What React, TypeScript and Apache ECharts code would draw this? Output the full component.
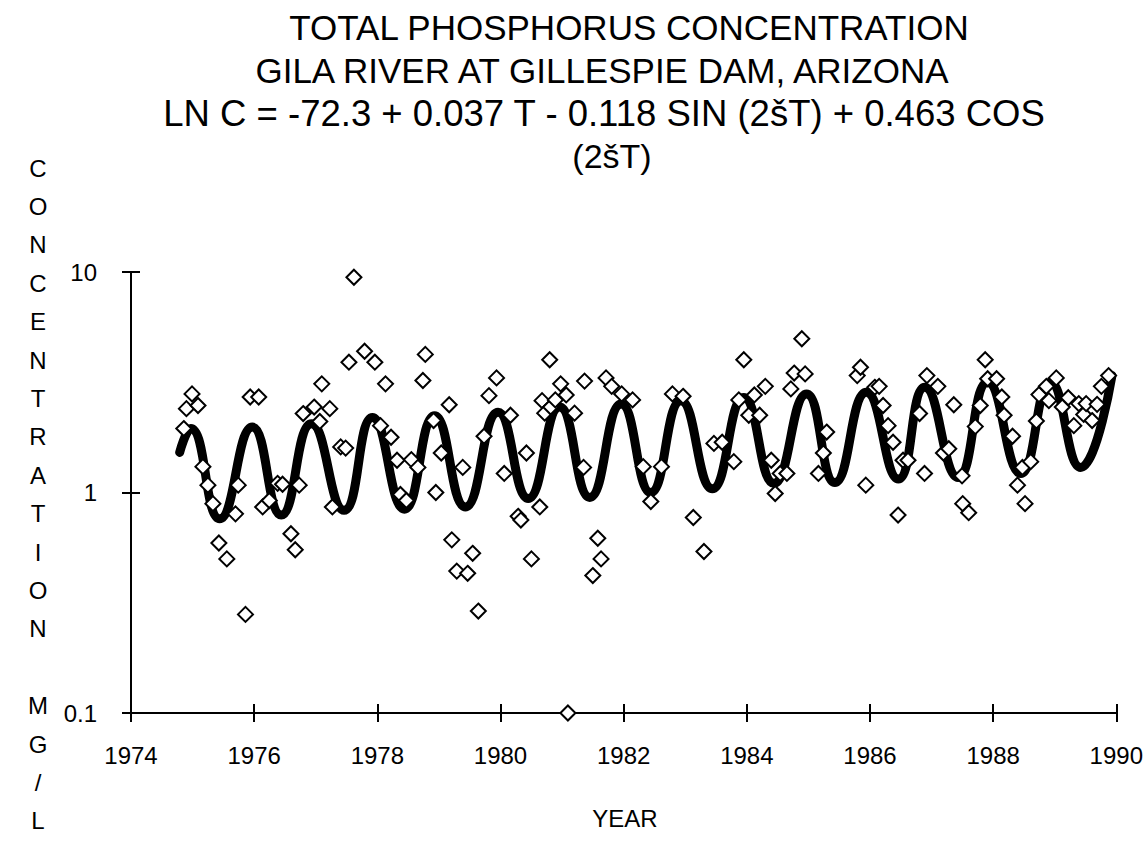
import React, { useEffect, useRef } from "react";
import * as echarts from "echarts";

// Observed samples (decimal year, concentration mg/L)
const obsYear = [
  1974.857, 1974.9, 1974.991, 1975.088, 1975.168, 1975.249, 1975.33, 1975.427, 1975.556, 1975.697,
  1975.741, 1975.859, 1975.935, 1976.074, 1976.138, 1976.246, 1976.381, 1976.461, 1976.597, 1976.667,
  1976.731, 1976.796, 1976.974, 1977.066, 1977.098, 1977.228, 1977.27, 1977.405, 1977.486, 1977.539,
  1977.62, 1977.793, 1977.96, 1978.052, 1978.133, 1978.223, 1978.32, 1978.375, 1978.472, 1978.553,
  1978.659, 1978.74, 1978.779, 1978.913, 1978.95, 1979.038, 1979.167, 1979.209, 1979.29, 1979.387,
  1979.467, 1979.548, 1979.64, 1979.733, 1979.813, 1979.936, 1980.061, 1980.162, 1980.287, 1980.331,
  1980.421, 1980.502, 1980.638, 1980.675, 1980.718, 1980.799, 1980.815, 1980.89, 1980.977, 1981.067,
  1981.095, 1981.203, 1981.349, 1981.365, 1981.499, 1981.58, 1981.633, 1981.714, 1981.806, 1981.968,
  1982.145, 1982.318, 1982.441, 1982.614, 1982.792, 1982.965, 1983.131, 1983.304, 1983.466, 1983.6,
  1983.789, 1983.87, 1983.951, 1984.032, 1984.122, 1984.209, 1984.3, 1984.397, 1984.461, 1984.542,
  1984.651, 1984.715, 1984.769, 1984.893, 1984.947, 1985.163, 1985.243, 1985.297, 1985.793, 1985.846,
  1985.932, 1986.078, 1986.149, 1986.213, 1986.294, 1986.375, 1986.456, 1986.537, 1986.618, 1986.805,
  1986.886, 1986.924, 1987.102, 1987.193, 1987.28, 1987.361, 1987.495, 1987.506, 1987.603, 1987.71,
  1987.791, 1987.871, 1987.911, 1988.056, 1988.141, 1988.178, 1988.315, 1988.395, 1988.476, 1988.518,
  1988.61, 1988.702, 1988.744, 1988.864, 1988.905, 1989.025, 1989.123, 1989.22, 1989.31, 1989.391,
  1989.471, 1989.51, 1989.607, 1989.688, 1989.758, 1989.875,
];
const obsConc = [
  1.95, 2.4, 2.8, 2.48, 1.31, 1.08, 0.89, 0.59, 0.5, 0.8,
  1.08, 0.28, 2.71, 2.71, 0.86, 0.92, 1.1, 1.09, 0.65, 0.55,
  1.08, 2.28, 2.44, 2.1, 3.11, 2.4, 0.86, 1.61, 1.59, 3.9,
  9.47, 4.37, 3.9, 2.01, 3.11, 1.78, 1.4, 0.98, 0.92, 1.41,
  1.3, 3.22, 4.23, 2.12, 1.0, 1.51, 2.5, 0.61, 0.44, 1.3,
  0.43, 0.53, 0.29, 1.8, 2.75, 3.31, 1.22, 2.24, 0.78, 0.75,
  1.51, 0.5, 0.86, 2.61, 2.29, 4.0, 2.44, 2.63, 3.11, 2.77,
  0.1, 2.29, 1.3, 3.2, 0.42, 0.62, 0.5, 3.31, 3.03, 2.8,
  2.63, 1.31, 0.91, 1.31, 2.8, 2.73, 0.77, 0.54, 1.67, 1.69,
  1.38, 2.63, 4.0, 2.24, 2.77, 2.24, 3.03, 1.4, 0.99, 1.22,
  1.22, 2.95, 3.48, 4.98, 3.45, 1.22, 1.51, 1.88, 3.39, 3.7,
  1.08, 3.0, 3.03, 2.48, 2.01, 1.69, 0.79, 1.4, 1.4, 2.28,
  1.22, 3.39, 3.03, 1.51, 1.58, 2.5, 1.19, 0.89, 0.81, 1.99,
  2.48, 4.0, 3.28, 3.28, 2.71, 2.24, 1.8, 1.08, 1.3, 0.89,
  1.38, 2.11, 2.78, 3.03, 2.61, 3.31, 2.44, 2.69, 2.01, 2.53,
  2.26, 2.53, 2.12, 2.51, 3.03, 3.39,
];

// Fitted seasonal curve at its turning points
const fitYear = [
  1974.79, 1974.97, 1975.44, 1975.97, 1976.44, 1976.93, 1977.46, 1977.92, 1978.44, 1978.93,
  1979.43, 1979.96, 1980.45, 1980.96, 1981.45, 1981.96, 1982.44, 1982.93, 1983.44, 1983.95,
  1984.44, 1984.97, 1985.43, 1985.94, 1986.46, 1986.89, 1987.43, 1987.91, 1988.45, 1988.93,
  1989.42, 1989.93,
];
const fitConc = [
  1.52, 1.95, 0.76, 1.98, 0.79, 2.05, 0.83, 2.19, 0.84, 2.23,
  0.86, 2.31, 0.94, 2.44, 0.95, 2.52, 1.0, 2.61, 1.04, 2.7,
  1.1, 2.8, 1.11, 2.85, 1.15, 3.0, 1.17, 3.16, 1.22, 3.16,
  1.3, 3.39,
];

const xMin = 1974;
const xMax = 1990;
const xStep = 2;
const yMin = 0.1;
const yMax = 10;

const titleLines = [
  "TOTAL PHOSPHORUS CONCENTRATION",
  "GILA RIVER AT GILLESPIE DAM, ARIZONA",
  "LN C = -72.3 + 0.037 T - 0.118 SIN (2šT) + 0.463 COS",
  "(2šT)",
];
const yTitle = "CONCENTRATION MG/L";
const xTitle = "YEAR";

const FONT = "'Liberation Sans', Arial, Helvetica, sans-serif";

export default function App() {
  const ref = useRef<HTMLDivElement>(null);

  useEffect(() => {
    if (!ref.current) return;
    const chart = echarts.init(ref.current, null, { renderer: "svg" });

    const scatterData = obsYear.map((y, i) => [y, obsConc[i]]);
    const fitData = fitYear.map((y, i) => [y, fitConc[i]]);

    const titleCenters = [629, 602, 604, 612];
    const titleYs = [27, 70, 113, 156];
    const titleSizes = [35, 35, 36.5, 34];
    const graphics: any[] = titleLines.map((t, i) => ({
      type: "text",
      x: titleCenters[i],
      y: titleYs[i],
      style: {
        text: t,
        font: `${titleSizes[i]}px ${FONT}`,
        fill: "#000",
        textAlign: "center",
        textVerticalAlign: "middle",
      },
    }));
    yTitle.split("").forEach((ch, i) => {
      if (ch === " ") return;
      graphics.push({
        type: "text",
        x: 38,
        y: 168 + i * 38.4,
        style: {
          text: ch,
          font: `24px ${FONT}`,
          fill: "#000",
          textAlign: "center",
          textVerticalAlign: "middle",
        },
      });
    });
    graphics.push({
      type: "text",
      x: 625,
      y: 818,
      style: {
        text: xTitle,
        font: `24px ${FONT}`,
        fill: "#000",
        textAlign: "center",
        textVerticalAlign: "middle",
      },
    });

    const axisLineStyle = { color: "#000", width: 2 };
    const baseX = {
      type: "value" as const,
      min: xMin,
      max: xMax,
      interval: xStep,
      splitLine: { show: false },
    };
    const baseY = {
      type: "log" as const,
      logBase: 10,
      min: yMin,
      max: yMax,
      splitLine: { show: false },
      minorTick: { show: false },
    };

    chart.setOption({
      animation: false,
      backgroundColor: "#fff",
      grid: { left: 131, right: 26, top: 272, bottom: 131, containLabel: false },
      graphic: graphics,
      xAxis: [
        {
          ...baseX,
          position: "bottom",
          axisLine: { show: true, lineStyle: axisLineStyle },
          axisTick: { show: true, inside: false, length: 9, lineStyle: axisLineStyle },
          axisLabel: {
            show: true,
            margin: 30,
            color: "#000",
            fontSize: 24,
            fontFamily: FONT,
            formatter: (v: number) => String(v),
          },
        },
        {
          ...baseX,
          position: "bottom",
          axisLine: { show: false },
          axisTick: { show: true, inside: true, length: 9, lineStyle: axisLineStyle },
          axisLabel: { show: false },
        },
      ],
      yAxis: [
        {
          ...baseY,
          position: "left",
          axisLine: { show: true, lineStyle: axisLineStyle },
          axisTick: { show: true, inside: false, length: 9, lineStyle: axisLineStyle },
          axisLabel: {
            show: true,
            margin: 34,
            color: "#000",
            fontSize: 24,
            fontFamily: FONT,
            formatter: (v: number) => String(v),
          },
        },
        {
          ...baseY,
          position: "left",
          axisLine: { show: false },
          axisTick: { show: true, inside: true, length: 9, lineStyle: axisLineStyle },
          axisLabel: { show: false },
        },
      ],
      series: [
        {
          type: "line",
          xAxisIndex: 0,
          yAxisIndex: 0,
          data: fitData,
          showSymbol: false,
          smooth: 0.5,
          lineStyle: { color: "#000", width: 9, cap: "round", join: "round" },
          z: 2,
          silent: true,
        },
        {
          type: "scatter",
          xAxisIndex: 0,
          yAxisIndex: 0,
          data: scatterData,
          symbol: "diamond",
          symbolSize: 15,
          clip: false,
          itemStyle: { color: "#fff", borderColor: "#000", borderWidth: 2, opacity: 1 },
          z: 3,
          silent: true,
        },
      ],
    });

    return () => chart.dispose();
  }, []);

  return (
    <div
      ref={ref}
      style={{ position: "fixed", left: 0, top: 0, width: 1146, height: 844, background: "#fff" }}
    />
  );
}
